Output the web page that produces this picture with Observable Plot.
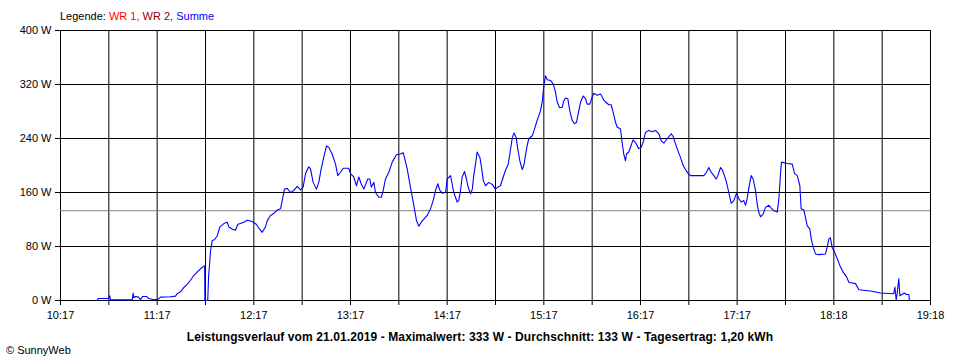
<!DOCTYPE html>
<html><head><meta charset="utf-8">
<script src="https://cdn.jsdelivr.net/npm/d3@7"></script>
<script src="https://cdn.jsdelivr.net/npm/@observablehq/plot@0.6"></script>
<style>
html,body{margin:0;padding:0;background:#fff;}
#wrap{width:960px;height:360px;font-family:"Liberation Sans",Arial,sans-serif;color:#000;overflow:hidden;}
#legend{height:24px;box-sizing:border-box;padding-left:60px;padding-top:10px;font-size:11px;line-height:13px;white-space:nowrap;}
#chart svg{display:block;}
#caption{height:20px;box-sizing:border-box;padding-top:6px;font-size:12px;line-height:14px;font-weight:bold;text-align:center;white-space:nowrap;letter-spacing:0.1px;}
#copy{height:16px;padding-left:6px;font-size:11px;line-height:12px;white-space:nowrap;}
</style></head><body>
<div id="wrap">
  <div id="legend"></div>
  <div id="chart"></div>
  <div id="caption"></div>
  <div id="copy"></div>
</div>
<script>
// Minutes after 10:17 and total power (W), series "Summe"
const summeReadings = [
[22.8,0],[23.4,3],[29.8,3],[30.6,7],[31,1],[44.5,1],[45.1,11],[45.5,4],[46.6,6],[48.4,5],
[49.7,1],[50.9,6],[53.4,6],[54.6,3],[58.3,1],[60.8,2],[62.1,5],[68.3,5.5],[71.4,6.5],[72.4,10],
[74.5,13],[76.5,19],[78.6,24],[80.7,30],[82.7,37],[84.8,42],[86.9,47],[88.9,51],[89.5,51],[89.6,0],
[91.4,0],[91.9,35],[92.7,59],[93.1,73],[94.2,89],[95.6,90],[97.3,96],[98.9,109],[101.4,114],[103.5,116],
[104.5,109],[106.6,106],[108.6,104],[110.1,113],[111.7,114],[113.8,116],[115.9,119],[119,117],[121.5,113],[123.5,106],
[125.2,101],[127.2,109],[128.3,118],[130.3,126],[132.4,129],[134.5,134],[136.6,136],[137.6,148],[139,165],[140.7,166],
[142.8,160],[144.8,163],[146.9,169],[149,164],[150.6,168],[152.1,188],[154.1,198],[155.2,195],[156.8,175],[158.9,165],
[160.3,175],[161.8,195],[163.4,212],[165.1,229],[166.5,227],[168.6,217],[170.7,202],[172.1,185],[173.8,190],[175.5,196],
[178.9,196],[180,188],[182,183],[183.7,170],[185.2,183],[186.6,173],[188.3,165],[190.7,180],[192,180],[192.9,168],
[194.5,175],[195.5,160],[197.6,153],[199.1,153],[200.3,163],[201.7,180],[203.8,190],[205.9,205],[208.5,216],[211,217],
[212.7,219],[213.5,212],[215.2,195],[217.2,168],[219.3,141],[221,118],[222.4,110],[224.5,118],[227.6,126],[229.7,136],
[231.3,148],[232.8,163],[234.2,173],[235.5,163],[236.9,159],[239,160],[240,180],[242.1,185],[244.1,160],[246.2,146],
[247.2,148],[248.3,163],[249.3,183],[250.8,191],[252,180],[252.8,170],[254.5,158],[255.6,165],[256.5,185],[257.6,202],
[258.6,220],[260.3,212],[261.3,198],[262.4,178],[263.8,170],[265.8,175],[268,172],[270,165],[271.5,168],[273.1,170],
[274.8,183],[276.2,193],[277.9,202],[278.9,217],[280.4,241],[281.4,248],[282.8,242],[283.8,225],[285.1,207],[286.6,194],
[287.6,200],[288.6,215],[289.7,230],[290.7,240],[292.8,244],[294.2,254],[295.9,267],[297.9,281],[299,294],[300,318],
[301,333],[302.1,327],[304.1,326],[305.8,321],[307.2,309],[308.3,294],[309.7,286],[311.4,286],[312.4,296],[313.4,300],
[314.9,299],[316.1,281],[317.6,267],[319,262],[320.3,264],[321.7,281],[322.8,294],[324.4,303],[325.9,299],[326.9,291],
[328.5,291],[330,301],[331,307],[333.1,304],[335.2,306],[337.2,297],[340.3,290],[341.8,290],[343,279],[344.5,264],
[345.5,257],[347.6,254],[348.6,234],[349.6,217],[350.7,207],[351.3,217],[352.7,220],[354.2,230],[355.4,238],[356.9,234],
[358.9,225],[360.4,227],[361.6,234],[363.1,249],[365.2,252],[367.3,250],[369.3,252],[371.4,247],[372.8,237],[374.5,233],
[376.6,240],[379.1,247],[380.3,243],[381.7,232],[383.2,222],[384.8,212],[386.5,200],[387.9,194],[389.6,188],[391,185],
[397.2,185],[399.3,185],[401,190],[402.4,197],[403.9,190],[405.5,185],[407,180],[408,185],[409.7,197],[410.7,194],
[412.1,185],[413.4,175],[414.8,160],[416.3,144],[417.9,148],[419.6,159],[421,151],[422.5,146],[424.1,148],[425.2,141],
[426.2,151],[427.2,166],[428.7,185],[429.9,180],[431.4,163],[432.4,143],[433.4,131],[434.5,124],[436.1,128],[437.6,138],
[439.7,141],[441.1,137],[442.8,133],[444.9,131],[445.9,151],[446.9,188],[447.5,205],[451,203],[454.2,202],[455.6,188],
[457.3,185],[458.9,170],[459.7,136],[461.4,134],[462.4,123],[463.4,111],[465.1,106],[466,91],[467.2,79],[468.6,69],
[470.7,68],[474.8,69],[475.9,79],[476.9,91],[477.9,93],[478.9,79],[480.4,72],[482.1,62],[483.7,52],[485.8,42],
[487.9,35],[489.3,27],[491.4,26],[493.5,25],[495.5,16],[502.8,14],[509,11],[517.2,10],[517.9,20],[518.3,10],
[518.7,1],[519.3,10],[520.3,32],[521,7],[523.8,11],[525,9],[526.6,9],[526.9,0]
];
const averageWatts = 133;
const xGridMinutes = [0,30,60,90,120,150,180,210,240,270,300,330,360,390,420,450,480,510,540];
const xTickLabels = ["10:17","","11:17","","12:17","","13:17","","14:17","","15:17","","16:17","","17:17","","18:18","","19:18"];
const yTickValues = [0,80,160,240,320,400];
const legendItems = [
  {label:"Legende: ", color:"#000000"},
  {label:"WR 1, ", color:"#ff0000"},
  {label:"WR 2, ", color:"#990000"},
  {label:"Summe", color:"#0000ff"}
];
const captionText = "Leistungsverlauf vom 21.01.2019 - Maximalwert: 333 W - Durchschnitt: 133 W - Tagesertrag: 1,20 kWh";
const copyrightText = "© SunnyWeb";

const data = summeReadings.map(([t, w]) => ({t, w}));

const legend = document.getElementById("legend");
legendItems.forEach(it => {
  const s = document.createElement("span");
  s.textContent = it.label;
  s.style.color = it.color;
  s.style.whiteSpace = "pre";
  legend.appendChild(s);
});
document.getElementById("caption").textContent = captionText;
document.getElementById("copy").textContent = copyrightText;

const chart = Plot.plot({
  width: 960,
  height: 300,
  marginTop: 6,
  marginBottom: 24,
  marginLeft: 60,
  marginRight: 30,
  style: {fontFamily: "Liberation Sans, Arial, sans-serif", fontSize: "11px", background: "#fff", color: "#000"},
  x: {domain: [0, 540]},
  y: {domain: [0, 400]},
  marks: [
    Plot.ruleX(xGridMinutes, {stroke: "#000", strokeWidth: 1}),
    Plot.ruleY(yTickValues, {stroke: "#000", strokeWidth: 1}),
    Plot.ruleY([averageWatts], {stroke: "#808080", strokeWidth: 1}),
    Plot.line(data, {x: "t", y: "w", stroke: "#0000ff", strokeWidth: 1.1}),
    Plot.axisX({ticks: xGridMinutes, tickFormat: (d) => xTickLabels[xGridMinutes.indexOf(d)], tickSize: 5, tickPadding: 6, label: null}),
    Plot.axisY({ticks: yTickValues, tickFormat: d => d + " W", tickSize: 5, tickPadding: 4, label: null})
  ]
});
document.getElementById("chart").appendChild(chart);
</script>
</body></html>
